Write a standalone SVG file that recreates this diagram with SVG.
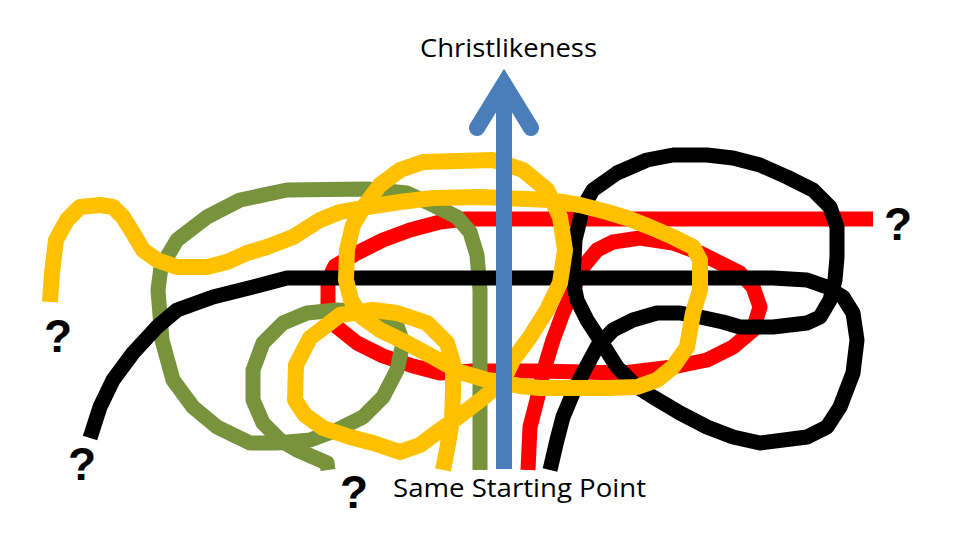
<svg xmlns="http://www.w3.org/2000/svg" width="960" height="540" viewBox="0 0 960 540">
<style>
.pen{fill:none;stroke-width:15;stroke-linejoin:round;stroke-linecap:butt}
.red{stroke:#FF0000}
.green{stroke:#77933C}
.black{stroke:#000000}
.yellow{stroke:#FFC000;stroke-width:16}
.blue{fill:none;stroke:#4A7EBB;stroke-width:16}
.lbl{font-family:"Open Sans","Liberation Sans",sans-serif;font-size:26px;fill:#000}
.q{font-family:"Liberation Sans",Arial,sans-serif;font-weight:bold;font-size:46px;fill:#000;text-anchor:middle}
</style>
<rect width="960" height="540" fill="#FFFFFF"/>
<g id="paths">
<polyline id="red-path" class="pen red" points="528,470 530,427 537,400 543,373 553,340 563,313 573,290 583,267 597,250 613,242 640,238 673,243 700,253 720,263 740,273 753,287 760,307 753,330 733,347 707,360 673,367 623,373 540,371 473,371 440,373 413,366 383,356 357,343 337,327 328,305 328,280 335,266 357,253 383,240 410,230 440,222 465,219 873,219"/>
<polyline id="green-path" class="pen green" points="328,470 327,463 297,450 280,440 263,423 253,400 253,370 263,343 283,323 307,313 337,310 370,312 395,320 403,343 397,370 383,397 363,417 337,430 310,440 277,443 250,443 217,427 193,407 173,380 162,340 158,290 161,267 177,240 207,217 240,200 287,190 367,189 407,193 433,205 457,217 470,232 477,255 480,290 480,470"/>
<polyline id="black-path" class="pen black" points="90,438 100,407 113,380 133,353 157,327 177,310 213,297 253,287 287,278 333,278 773,278 807,280 827,287 843,297 853,313 857,340 853,373 840,407 827,427 807,437 760,443 733,437 707,427 680,413 653,397 637,387 617,367 600,340 587,320 577,300 573,280 575,240 583,207 593,190 617,173 647,160 673,155 707,155 733,158 760,165 787,177 813,190 830,207 837,227 837,257 835,280 830,300 820,317 807,323 773,327 740,327 723,322 700,317 680,313 657,313 633,320 613,330 597,347 583,373 573,393 563,417 557,440 550,470"/>
<polyline id="yellow-path" class="pen yellow" points="443,470 447,450 452,420 453,390 453,363 447,343 427,323 397,313 373,310 340,315 310,338 296,365 295,400 305,415 323,428 350,437 373,443 400,452 420,445 440,430 457,418 483,398 503,381 513,360 530,337 547,310 560,283 565,250 560,217 547,190 523,170 493,160 423,162 400,170 380,185 365,205 353,225 347,250 346,280 351,300 362,317 380,330 407,343 433,357 460,372 487,380 503,382 520,386 540,388 607,388 637,387 657,380 673,367 687,347 693,313 700,290 700,260 693,247 673,237 650,227 627,218 607,212 580,205 550,200 480,197 433,198 400,202 367,207 340,212 320,220 293,237 267,247 247,253 227,262 207,267 177,267 157,260 143,250 133,233 123,217 113,207 100,205 80,207 67,220 56,240 52,273 50,302"/>
</g>
<g id="arrow">
<line class="blue" x1="504" y1="469" x2="504" y2="84"/>
<polyline class="blue" points="477,128 504,84 531,128" stroke-linecap="round" stroke-linejoin="miter"/>
</g>
<g id="labels">
<text class="lbl" x="420" y="57" textLength="177" lengthAdjust="spacingAndGlyphs">Christlikeness</text>
<text class="lbl" x="393" y="497" textLength="253" lengthAdjust="spacingAndGlyphs">Same Starting Point</text>
<text class="q" x="58" y="352">?</text>
<text class="q" x="82" y="480">?</text>
<text class="q" x="354" y="508">?</text>
<text class="q" x="898" y="240">?</text>
</g>
</svg>
